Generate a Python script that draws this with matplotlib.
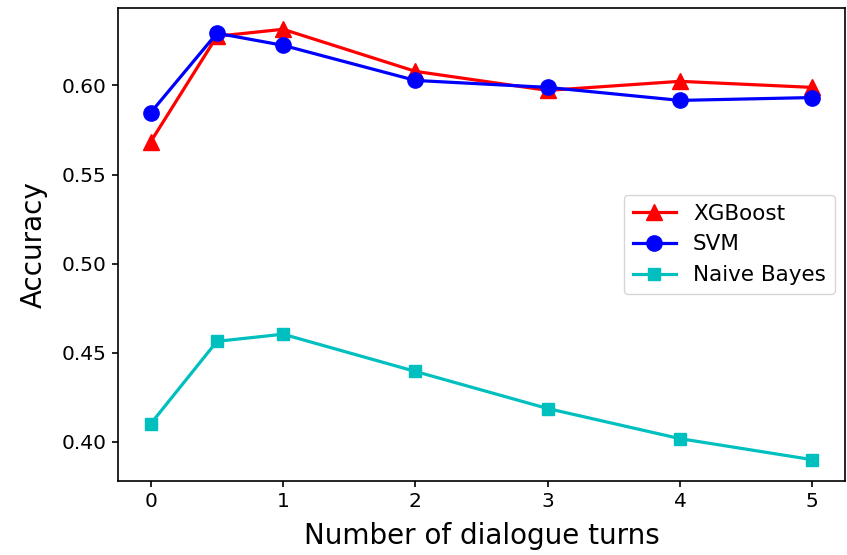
import matplotlib
matplotlib.use('Agg')
import matplotlib.pyplot as plt

# 对话轮数
turns = [0, 0.5, 1, 2, 3, 4, 5]

# 各模型准确率
xgboost = [0.5685, 0.6276, 0.6315, 0.6079, 0.5972, 0.6023, 0.5989]
svm = [0.5848, 0.6293, 0.6225, 0.6028, 0.5989, 0.5916, 0.5932]
naive_bayes = [0.4102, 0.4564, 0.4604, 0.4395, 0.4187, 0.4018, 0.3900]

plt.figure(figsize=(8.47, 5.55), dpi=100)
plt.subplots_adjust(left=0.139, right=0.998, top=0.986, bottom=0.133)

plt.plot(turns, xgboost, marker='^', linestyle='-', color='r', linewidth=2.3, markersize=11, label='XGBoost')
plt.plot(turns, svm, marker='o', linestyle='-', color='b', linewidth=2.3, markersize=11, label='SVM')
plt.plot(turns, naive_bayes, marker='s', linestyle='-', color='c', linewidth=2.3, markersize=9, label='Naive Bayes')

plt.yticks([0.40, 0.45, 0.50, 0.55, 0.60])
plt.tick_params(axis='both', labelsize=14.5, length=4.5, width=1.2)
for s in plt.gca().spines.values():
    s.set_linewidth(1.2)

plt.xlabel('Number of dialogue turns', fontsize=20, labelpad=8)
plt.ylabel('Accuracy', fontsize=20, labelpad=10)

plt.legend(loc='center right', fontsize=15.5)

plt.savefig('out.png')
